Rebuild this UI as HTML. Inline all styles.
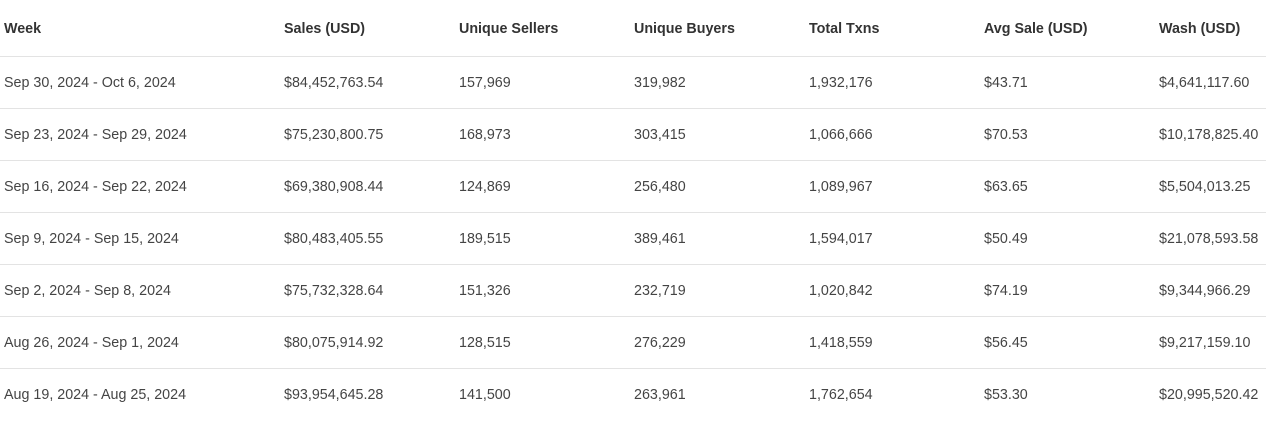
<!DOCTYPE html>
<html><head><style>
body{margin:0;width:1266px;height:416px;background:#fff;overflow:hidden;font-family:"Liberation Sans",sans-serif;}
.r{position:absolute;left:0;width:1266px;height:51px;border-bottom:1px solid #e3e3e3;}
.c{position:absolute;top:0;line-height:53px;font-size:14.3px;color:#444;white-space:nowrap;}
.h .c{font-weight:bold;color:#333;line-height:58px;font-size:14.3px;}
</style></head><body>
<div class="r h" style="top:0;height:56px">
<div class="c" style="left:4px">Week</div><div class="c" style="left:284px">Sales (USD)</div><div class="c" style="left:459px">Unique Sellers</div><div class="c" style="left:634px">Unique Buyers</div><div class="c" style="left:809px">Total Txns</div><div class="c" style="left:984px">Avg Sale (USD)</div><div class="c" style="left:1159px">Wash (USD)</div></div>
<div class="r" style="top:57px"><div class="c" style="left:4px">Sep 30, 2024 - Oct 6, 2024</div><div class="c" style="left:284px">$84,452,763.54</div><div class="c" style="left:459px">157,969</div><div class="c" style="left:634px">319,982</div><div class="c" style="left:809px">1,932,176</div><div class="c" style="left:984px">$43.71</div><div class="c" style="left:1159px">$4,641,117.60</div></div>
<div class="r" style="top:109px"><div class="c" style="left:4px">Sep 23, 2024 - Sep 29, 2024</div><div class="c" style="left:284px">$75,230,800.75</div><div class="c" style="left:459px">168,973</div><div class="c" style="left:634px">303,415</div><div class="c" style="left:809px">1,066,666</div><div class="c" style="left:984px">$70.53</div><div class="c" style="left:1159px">$10,178,825.40</div></div>
<div class="r" style="top:161px"><div class="c" style="left:4px">Sep 16, 2024 - Sep 22, 2024</div><div class="c" style="left:284px">$69,380,908.44</div><div class="c" style="left:459px">124,869</div><div class="c" style="left:634px">256,480</div><div class="c" style="left:809px">1,089,967</div><div class="c" style="left:984px">$63.65</div><div class="c" style="left:1159px">$5,504,013.25</div></div>
<div class="r" style="top:213px"><div class="c" style="left:4px">Sep 9, 2024 - Sep 15, 2024</div><div class="c" style="left:284px">$80,483,405.55</div><div class="c" style="left:459px">189,515</div><div class="c" style="left:634px">389,461</div><div class="c" style="left:809px">1,594,017</div><div class="c" style="left:984px">$50.49</div><div class="c" style="left:1159px">$21,078,593.58</div></div>
<div class="r" style="top:265px"><div class="c" style="left:4px">Sep 2, 2024 - Sep 8, 2024</div><div class="c" style="left:284px">$75,732,328.64</div><div class="c" style="left:459px">151,326</div><div class="c" style="left:634px">232,719</div><div class="c" style="left:809px">1,020,842</div><div class="c" style="left:984px">$74.19</div><div class="c" style="left:1159px">$9,344,966.29</div></div>
<div class="r" style="top:317px"><div class="c" style="left:4px">Aug 26, 2024 - Sep 1, 2024</div><div class="c" style="left:284px">$80,075,914.92</div><div class="c" style="left:459px">128,515</div><div class="c" style="left:634px">276,229</div><div class="c" style="left:809px">1,418,559</div><div class="c" style="left:984px">$56.45</div><div class="c" style="left:1159px">$9,217,159.10</div></div>
<div class="r" style="top:369px;border:none"><div class="c" style="left:4px">Aug 19, 2024 - Aug 25, 2024</div><div class="c" style="left:284px">$93,954,645.28</div><div class="c" style="left:459px">141,500</div><div class="c" style="left:634px">263,961</div><div class="c" style="left:809px">1,762,654</div><div class="c" style="left:984px">$53.30</div><div class="c" style="left:1159px">$20,995,520.42</div></div>
</body></html>
